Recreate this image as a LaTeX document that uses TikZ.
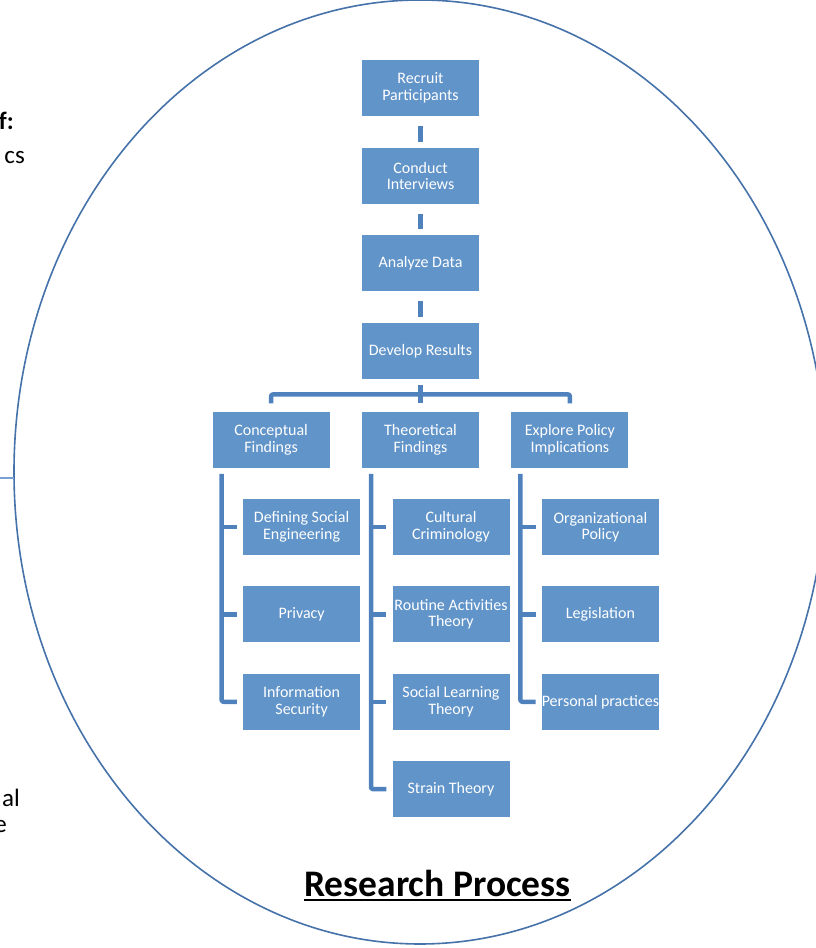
\documentclass[tikz,border=0pt]{standalone}
\usepackage{fontspec}
\setmainfont{Carlito}
\usetikzlibrary{positioning}
\definecolor{boxblue}{RGB}{97,148,201}
\definecolor{linkblue}{RGB}{79,129,189}
\definecolor{ringblue}{RGB}{70,114,170}
\definecolor{stubblue}{RGB}{120,160,210}
\begin{document}
\begin{tikzpicture}[x=1pt,y=1pt,line join=round,
  procbox/.style={fill=boxblue,text=white,minimum width=117pt,minimum height=56pt,
    inner sep=0pt,align=center,font=\fontsize{16}{16.5}\selectfont},
  link/.style={draw=linkblue,line width=4.5pt},
  ring/.style={draw=ringblue,line width=1.6pt},
  cut/.style={anchor=base east,inner sep=0pt,font=\fontsize{25}{28}\selectfont}]
  \useasboundingbox (0,0) rectangle (815,948);
  % the big ring, and the stub that meets it on the left
  \draw[ring] (420,476) ellipse[x radius=406,y radius=472];
  \coordinate (stub) at (0,470);
  \coordinate (ringwest) at (14,470);
  \draw[stubblue,line width=2pt] (stub) -- (ringwest);
  % text cut off at the left edge
  \node[cut,font=\fontsize{25}{28}\selectfont\bfseries] (cuta) at (14,818) {f:};
  \node[cut] (cutb) at (25,784) {cs};
  \node[cut] (cutc) at (20,141) {al};
  \node[cut] (cutd) at (7,115) {e};
  % main chain
  \node[procbox] (recruit) at (420.5,860) {Recruit\\Participants};
  \node[procbox,below=31.5pt of recruit] (conduct) {Conduct\\Interviews};
  \node[procbox,below=31pt of conduct] (analyze) {Analyze Data};
  \node[procbox,below=31.5pt of analyze] (develop) {Develop Results};
  \foreach \a/\b in {recruit/conduct,conduct/analyze,analyze/develop}
    \draw[link,shorten <=10pt,shorten >=6pt] (\a.south) -- (\b.north);
  % findings row
  \node[procbox,below=32pt of develop] (theo) {Theoretical\\Findings};
  \node[procbox,left=32pt of theo] (conc) {Conceptual\\Findings};
  \node[procbox,right=32pt of theo] (expl) {Explore Policy\\Implications};
  \coordinate (bus) at ([yshift=17pt]theo.north);
  \draw[link] ([yshift=-6pt]develop.south) -- ([yshift=8pt]theo.north);
  \draw[link,rounded corners=2pt] ([yshift=8pt]conc.north) |- (bus) -| ([yshift=8pt]expl.north);
  % conceptual findings
  \node[procbox,below=31pt of conc,xshift=30.5pt] (dse) {Defining Social\\Engineering};
  \node[procbox,below=31pt of dse] (priv) {Privacy};
  \node[procbox,below=31pt of priv] (info) {Information\\Security};
  % theoretical findings
  \node[procbox,below=31pt of theo,xshift=30.5pt] (cult) {Cultural\\Criminology};
  \node[procbox,below=31pt of cult] (rat) {Routine Activities\\Theory};
  \node[procbox,below=31pt of rat] (slt) {Social Learning\\Theory};
  \node[procbox,below=31pt of slt] (strain) {Strain Theory};
  % policy implications
  \node[procbox,below=31pt of expl,xshift=30.5pt] (org) {Organizational\\Policy};
  \node[procbox,below=31pt of org] (legis) {Legislation};
  \node[procbox,below=31pt of legis] (pers) {Personal practices};
  % side buses
  \coordinate (busa) at ([xshift=-49.5pt,yshift=-6pt]conc.south);
  \coordinate (busb) at ([xshift=-49.5pt,yshift=-6pt]theo.south);
  \coordinate (busc) at ([xshift=-49.5pt,yshift=-6pt]expl.south);
  \draw[link,rounded corners=2pt] (busa) |- ([xshift=-6pt]info.west);
  \draw[link,rounded corners=2pt] (busb) |- ([xshift=-6pt]strain.west);
  \draw[link,rounded corners=2pt] (busc) |- ([xshift=-6pt]pers.west);
  \foreach \k in {dse,priv}
    \draw[link] (busa |- \k.west) -- ([xshift=-6pt]\k.west);
  \foreach \k in {cult,rat,slt}
    \draw[link] (busb |- \k.west) -- ([xshift=-6pt]\k.west);
  \foreach \k in {org,legis}
    \draw[link] (busc |- \k.west) -- ([xshift=-6pt]\k.west);
  % title
  \node[inner sep=0pt,font=\fontsize{37.5}{42}\selectfont\bfseries] (title) at (437.5,65) {Research Process};
  \draw[line width=2.4pt] ([yshift=-4pt]title.base west) -- ([yshift=-4pt]title.base east);
\end{tikzpicture}
\end{document}
